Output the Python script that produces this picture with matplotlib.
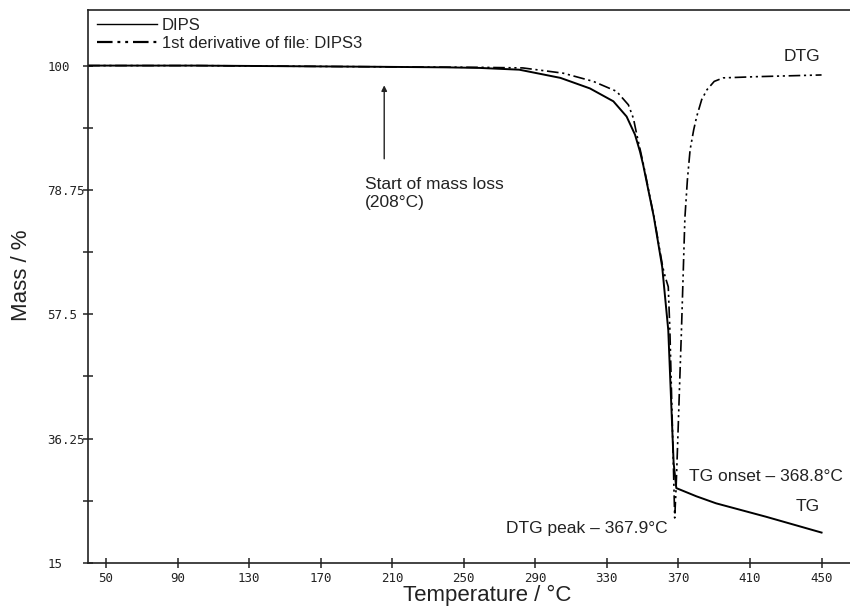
import matplotlib
matplotlib.use('Agg')
import matplotlib.pyplot as plt
from matplotlib.lines import Line2D

plt.rcParams['font.family'] = ['Liberation Sans', 'DejaVu Sans']

# TG curve (DIPS)
tg_temp = [40, 100, 150, 200, 240, 259, 281, 304, 320.5, 333.6, 341, 345.7,
           348.5, 350.3, 356.2, 360.9, 364.3, 367.3, 368.8, 380, 391, 419,
           450]
tg_mass = [100, 100, 99.9, 99.8, 99.7, 99.6, 99.3, 97.9, 96.1, 93.9, 91.3,
           88.2, 85.3, 83.0, 74.2, 65.6, 54.8, 32.1, 27.8, 26.4, 25.2, 22.9,
           20.2]

# DTG curve (1st derivative of file: DIPS3)
dtg_temp = [40, 100, 200, 260, 283, 305.6, 322.4, 335.4, 342, 344.8, 346.7,
            348.7, 350.5, 356.4, 361.2, 362.5, 364.3, 365.2, 366.9, 367.9,
            368.7, 369.5, 370.7, 371.7, 373.6, 375, 376.5, 378.5, 380.2,
            383, 386, 390, 395, 413, 450]
dtg_mass = [100, 100, 99.8, 99.7, 99.6, 98.7, 97.3, 95.6, 93.3, 91.0, 88.2,
            85.5, 83.0, 74.0, 65.6, 64.0, 62.2, 54.8, 34.9, 22.7, 28, 35,
            46, 55, 74, 80.5, 85.6, 89, 91.3, 94.2, 95.9, 97.3, 97.9, 98.1,
            98.4]

x_ticks = [50, 90, 130, 170, 210, 250, 290, 330, 370, 410, 450]
y_ticks = [15, 36.25, 57.5, 78.75, 100]
y_minor = [25.625, 46.875, 68.125, 89.375]

ink = '#222222'
dashdot = (0, (7, 2.2, 1.3, 2.2, 1.3, 2.2))

fig = plt.figure(figsize=(8.5, 6.12), dpi=100)
ax = fig.add_axes([88 / 850, 1 - 563 / 612, 762 / 850, 553 / 612])

ax.plot(tg_temp, tg_mass, color='black', lw=1.4)
ax.plot(dtg_temp, dtg_mass, color='black', lw=1.2, linestyle=dashdot)

ax.set_xlim(39.9, 465.9)
ax.set_ylim(15, 109.5)

ax.spines['right'].set_visible(False)
for s in ['left', 'bottom', 'top']:
    ax.spines[s].set_linewidth(1.2)
    ax.spines[s].set_color(ink)

ax.set_xticks(x_ticks)
ax.set_xticklabels([str(t) for t in x_ticks])
ax.set_yticks(y_ticks)
ax.set_yticklabels(['15', '36.25', '57.5', '78.75', '100'])
ax.set_yticks(y_minor, minor=True)
ax.tick_params(axis='both', which='both', direction='inout', length=7,
               width=1.1, color=ink, labelcolor=ink)
ax.tick_params(axis='x', labelsize=9, pad=3)
ax.tick_params(axis='y', labelsize=9, pad=26)
for lbl in ax.get_xticklabels() + ax.get_yticklabels():
    lbl.set_family('DejaVu Sans Mono')
plt.setp(ax.get_yticklabels(), ha='left')

fig.text(487 / 850, 1 - 595 / 612, 'Temperature / °C', ha='center',
         va='center', fontsize=16, color=ink)
fig.text(22 / 850, 1 - 275 / 612, 'Mass / %', ha='center', va='center',
         rotation=90, fontsize=16, color=ink)

# annotations
ax.annotate('', xy=(205.5, 97.1), xytext=(205.5, 83.6),
            arrowprops=dict(arrowstyle='-|>', color=ink, lw=1.0,
                            mutation_scale=8))
ax.text(194.8, 78.1, 'Start of mass loss\n(208°C)', ha='left', va='center',
        fontsize=12.5, color=ink, linespacing=1.25)
ax.text(449, 101.5, 'DTG', ha='right', va='center', fontsize=12.5, color=ink)
ax.text(375.9, 29.75, 'TG onset – 368.8°C', ha='left', va='center',
        fontsize=12.5, color=ink)
ax.text(449, 24.7, 'TG', ha='right', va='center', fontsize=12.5, color=ink)
ax.text(363.7, 20.9, 'DTG peak – 367.9°C', ha='right', va='center',
        fontsize=12.5, color=ink)

handles = [Line2D([], [], color='black', lw=1.0),
           Line2D([], [], color='black', lw=1.6, linestyle=dashdot)]
ax.legend(handles, ['DIPS', '1st derivative of file: DIPS3'],
          loc='upper left', bbox_to_anchor=(0.0113, 0.986), frameon=False,
          fontsize=12, borderpad=0, borderaxespad=0, handlelength=3.6,
          handletextpad=0.3, labelspacing=0.2, labelcolor=ink)

fig.savefig('out.png', dpi=100)
